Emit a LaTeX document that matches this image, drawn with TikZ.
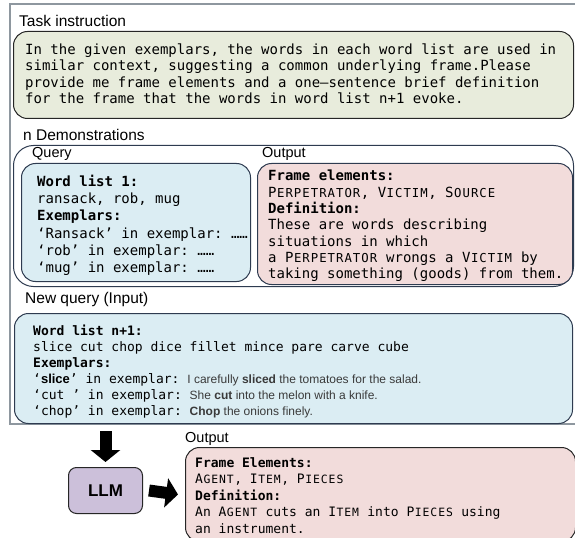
\documentclass[tikz,border=0pt]{standalone}
\usepackage{fontspec}
\setmainfont{Liberation Sans}
\setsansfont{Liberation Sans}
\setmonofont{DejaVu Sans Mono}
\usetikzlibrary{arrows.meta}
\definecolor{taskfill}{HTML}{E8ECDC}
\definecolor{bluefill}{HTML}{DBEDF3}
\definecolor{pinkfill}{HTML}{F2DCDB}
\definecolor{llmfill}{HTML}{CCC0DA}
\definecolor{navy}{HTML}{2E3B50}
\definecolor{framegrey}{HTML}{8E979F}
\definecolor{darkline}{HTML}{262626}
\definecolor{senttext}{HTML}{3A3A3A}
% monospaced fake small caps: each letter keeps one full character cell
\newlength\scw
\def\scsize{11bp}
\def\fscloop#1{\ifx\relax#1\else\makebox[\scw][c]{\fontsize{\scsize}{\scsize}\selectfont #1}\expandafter\fscloop\fi}
\newcommand\fscg[2]{\def\scsize{#1}\settowidth\scw{M}\fscloop#2\relax}
\newcommand\fsc{\fscg{12.3bp}}
\newcommand\fscb{\fscg{11.4bp}}
\newcommand\sent[1]{{\sffamily\fontsize{12bp}{13bp}\selectfont\color{senttext}#1}}
\begin{document}
\begin{tikzpicture}[x=1bp,y=-1bp,
  lab/.style={anchor=base west, inner sep=0pt, font=\sffamily\fontsize{15.5bp}{17bp}\selectfont},
  sublab/.style={anchor=base west, inner sep=0pt, font=\sffamily\fontsize{14.5bp}{16bp}\selectfont},
  monoA/.style={anchor=base west, inner sep=0pt, font=\ttfamily\fontsize{14bp}{16bp}\selectfont},
  monoB/.style={anchor=base west, inner sep=0pt, font=\ttfamily\fontsize{13bp}{15bp}\selectfont},
  panel/.style={anchor=north west, inner sep=0pt, line width=1bp, rounded corners=14bp},
  bigarrow/.style={line width=12bp, -{Triangle[length=12bp,width=29bp]}}
]
\useasboundingbox (0,0) rectangle (575,538);
\clip (0,0) rectangle (575,538);
\fill[white] (0,0) rectangle (575,538);

% outer frame
\draw[framegrey, line width=1.3bp] (10,4) rectangle (600,424);

% Task instruction
\node[lab] (tasklab) at (19,27) {Task instruction};
\node[panel, draw=darkline, fill=taskfill, minimum width=560bp, minimum height=87bp] (task) at (13,31) {};
\foreach \t [count=\i from 0] in {
  {In the given exemplars, the words in each word list are used in},
  {similar context, suggesting a common underlying frame.Please},
  {provide me frame elements and a one–sentence brief definition},
  {for the frame that the words in word list n+1 evoke.}}
  \node[monoA] (task-\i) at (25,{54.5+16.3*\i}) {\t};

% n Demonstrations
\node[lab] (demolab) at (23,141) {n Demonstrations};
\node[panel, draw=navy, fill=white, rounded corners=20bp, minimum width=560bp, minimum height=141bp] (demo) at (13,145) {};
\node[sublab] (querylab) at (32,158) {Query};
\node[sublab] (outlab1) at (262,158) {Output};
\node[panel, draw=navy, fill=bluefill, minimum width=229bp, minimum height=118bp] (query) at (21,163) {};
\node[panel, draw=navy, fill=pinkfill, minimum width=315bp, minimum height=121bp] (out1) at (257,163) {};
\foreach \t [count=\i from 0] in {
  {\textbf{Word list 1:}},
  {ransack, rob, mug},
  {\textbf{Exemplars:}},
  {‘Ransack’ in exemplar: ……},
  {‘rob’ in exemplar: ……},
  {‘mug’ in exemplar: ……}}
  \node[monoA] (q-\i) at (37,{187+17*\i}) {\t};
\foreach \t [count=\i from 0] in {
  {\textbf{Frame elements:}},
  {P\fsc{ERPETRATOR}, V\fsc{ICTIM}, S\fsc{OURCE}},
  {\textbf{Definition:}},
  {These are words describing},
  {situations in which},
  {a P\fsc{ERPETRATOR} wrongs a V\fsc{ICTIM} by},
  {taking something (goods) from them.}}
  \node[monoA] (o-\i) at (268,{181+16.25*\i}) {\t};

% New query
\node[lab] (nqlab) at (25,303) {New query (Input)};
\node[panel, draw=navy, fill=bluefill, minimum width=558bp, minimum height=110bp] (nq) at (14,313) {};
\foreach \t [count=\i from 0] in {
  {\textbf{Word list n+1:}},
  {slice cut chop dice fillet mince pare carve cube},
  {\textbf{Exemplars:}},
  {‘{\sffamily\bfseries slice}’ in exemplar: \sent{I carefully \textbf{sliced} the tomatoes for the salad.}},
  {‘cut ’ in exemplar: \sent{She \textbf{cut} into the melon with a knife.}},
  {‘chop’ in exemplar: \sent{\textbf{Chop} the onions finely.}}}
  \node[monoB] (n-\i) at (33,{335+16*\i}) {\t};

% LLM and final output
\node[sublab] (outlab2) at (185,442) {Output};
\node[panel, draw=darkline, fill=llmfill, rounded corners=8bp, minimum width=74bp, minimum height=46bp,
      font=\sffamily\bfseries\fontsize{17bp}{17bp}\selectfont] (llm) at (68,467) {LLM};
\node[panel, draw=darkline, fill=pinkfill, minimum width=390bp, minimum height=94bp] (out2) at (185,447) {};
\foreach \t [count=\i from 0] in {
  {\textbf{Frame Elements:}},
  {A\fscb{GENT}, I\fscb{TEM}, P\fscb{IECES}},
  {\textbf{Definition:}},
  {An A\fscb{GENT} cuts an I\fscb{TEM} into P\fscb{IECES} using},
  {an instrument.}}
  \node[monoB] (f-\i) at (195,{467+16.5*\i}) {\t};

\draw[bigarrow] ([yshift=-7bp]nq.south -| llm.north) -- ([yshift=5bp]llm.north);
\draw[bigarrow] ([xshift=6bp]llm.east) -- ([xshift=-7bp]out2.west);
\end{tikzpicture}
\end{document}
